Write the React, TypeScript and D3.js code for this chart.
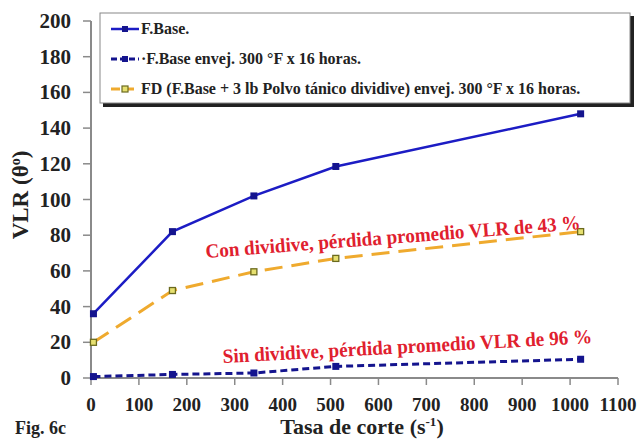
import React from "react";
import * as d3 from "d3";

const shearRates = [5.1, 170, 340, 511, 1022];
const fBase = [36, 82, 102, 118.5, 148];
const fBaseAged = [0.8, 2, 2.8, 6.5, 10.5];
const fdAged = [20, 49, 59.5, 67, 82];
const xTicks = [0, 100, 200, 300, 400, 500, 600, 700, 800, 900, 1000, 1100];
const yTicks = [0, 20, 40, 60, 80, 100, 120, 140, 160, 180, 200];
const legendLabels = [
  "F.Base.",
  "F.Base envej. 300 °F x 16 horas.",
  "FD (F.Base + 3 lb Polvo tánico dividive) envej. 300 °F x 16 horas.",
];
const noteCon = "Con dividive, pérdida promedio VLR de 43 %";
const noteSin = "Sin dividive, pérdida promedio VLR de 96 %";

const W = 641;
const H = 445;
const SERIF = "Times New Roman";

function T(props: any) {
  const { children, ...rest } = props;
  return (
    <text {...rest} style={{ fontFamily: SERIF, fontWeight: 700 }}>
      {children}
    </text>
  );
}

export default function App() {
  const x = d3.scaleLinear().domain([0, 1100]).range([91, 618]);
  const y = d3.scaleLinear().domain([0, 200]).range([378, 21]);
  const line = d3
    .line<[number, number]>()
    .x((d) => x(d[0]))
    .y((d) => y(d[1]));
  const pts = (vals: number[]) => shearRates.map((s, i) => [s, vals[i]] as [number, number]);

  const blue = "#1c1cc4";
  const navy = "#14148e";
  const gold = "#efaa2e";
  const red = "#e0202e";
  const axisCol = "#8a8a8a";

  return (
    <svg width={W} height={H} style={{ position: "absolute", left: 0, top: 0, background: "#fff", fontFamily: SERIF }}>
      <rect width={W} height={H} fill="#fff" />
      {/* axes */}
      <line x1={x(0)} x2={x(0)} y1={y(200)} y2={y(0)} stroke={axisCol} strokeWidth={2} />
      <line x1={x(0)} x2={x(1100)} y1={y(0)} y2={y(0)} stroke={axisCol} strokeWidth={2} />
      {yTicks.map((t) => (
        <g key={"y" + t}>
          <line x1={x(0) - 8} x2={x(0)} y1={y(t)} y2={y(t)} stroke={axisCol} strokeWidth={1.5} />
          <T x={71} y={y(t) + 7} textAnchor="end" fontSize={21} fill="#222">
            {t}
          </T>
        </g>
      ))}
      {xTicks.map((t) => (
        <g key={"x" + t}>
          <line x1={x(t)} x2={x(t)} y1={y(0)} y2={y(0) + 7} stroke={axisCol} strokeWidth={1.5} />
          <T x={x(t)} y={411} textAnchor="middle" fontSize={19} fill="#222">
            {t}
          </T>
        </g>
      ))}
      {/* axis titles */}
      <T transform={`translate(28,195) rotate(-90)`} textAnchor="middle" fontSize={23} fill="#222">
        VLR (θ<tspan dy={-8} fontSize={14}>o</tspan>
        <tspan dy={8}>)</tspan>
      </T>
      <T x={362} y={434} textAnchor="middle" fontSize={22} fill="#222">
        Tasa de corte (s<tspan dy={-8} fontSize={13}>-1</tspan>
        <tspan dy={8}>)</tspan>
      </T>
      <T x={15} y={434} fontSize={18} fill="#222">
        Fig. 6c
      </T>

      {/* series */}
      <path d={line(pts(fBase)) || ""} fill="none" stroke={blue} strokeWidth={2.5} />
      <path d={line(pts(fBaseAged)) || ""} fill="none" stroke={navy} strokeWidth={3} strokeDasharray="7,4" />
      <path d={line(pts(fdAged)) || ""} fill="none" stroke={gold} strokeWidth={3} strokeDasharray="18,9" />
      {pts(fBase).map((p, i) => (
        <rect key={"a" + i} x={x(p[0]) - 3.5} y={y(p[1]) - 3.5} width={7} height={7} fill={navy} />
      ))}
      {pts(fBaseAged).map((p, i) => (
        <rect key={"b" + i} x={x(p[0]) - 3.5} y={y(p[1]) - 3.5} width={7} height={7} fill={navy} />
      ))}
      {pts(fdAged).map((p, i) => (
        <rect
          key={"c" + i}
          x={x(p[0]) - 3}
          y={y(p[1]) - 3}
          width={6}
          height={6}
          fill="#e6e070"
          stroke="#6b6a1e"
          strokeWidth={1.3}
        />
      ))}

      {/* annotations */}
      <T
        transform={`translate(206,258) rotate(-4.4)`}
        fontSize={20}
        fill={red}
        textLength={376}
        lengthAdjust="spacingAndGlyphs"
      >
        {noteCon}
      </T>
      <T
        transform={`translate(223,363) rotate(-3.1)`}
        fontSize={20}
        fill={red}
        textLength={370}
        lengthAdjust="spacingAndGlyphs"
      >
        {noteSin}
      </T>

      {/* legend */}
      <rect x={103} y={16} width={531} height={91} fill="#222" />
      <rect x={100} y={13} width={530} height={90} fill="#fff" stroke="#888" strokeWidth={1} />
      {legendLabels.map((lab, i) => {
        const cy = 29 + i * 30;
        const col = i === 2 ? gold : i === 1 ? navy : blue;
        return (
          <g key={"l" + i}>
            <line
              x1={111}
              x2={139}
              y1={cy}
              y2={cy}
              stroke={col}
              strokeWidth={i === 0 ? 2.5 : 3}
              strokeDasharray={i === 1 ? "6,3" : i === 2 ? "9,5" : undefined}
            />
            {i < 2 ? (
              <rect x={122} y={cy - 3} width={6} height={6} fill={navy} />
            ) : (
              <rect x={122} y={cy - 3} width={6} height={6} fill="#e6e070" stroke="#6b6a1e" strokeWidth={1.2} />
            )}
            <T x={141} y={cy + 5} fontSize={16} fill="#222">
              {i === 0 ? lab : i === 1 ? "·" + lab : " " + lab}
            </T>
          </g>
        );
      })}
    </svg>
  );
}
